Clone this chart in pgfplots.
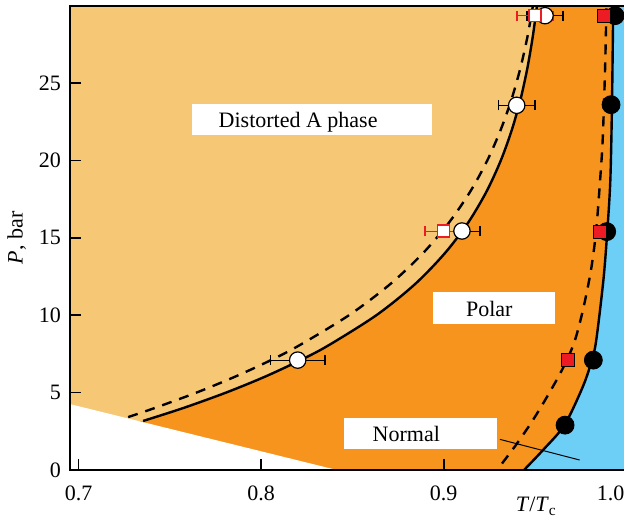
\documentclass[border=0pt]{standalone}
\usepackage{fontspec}
\setmainfont{Liberation Serif}
\usepackage{pgfplots}
\usepackage{pgfplotstable}
\usepgfplotslibrary{fillbetween}
\pgfplotsset{compat=1.18}

\definecolor{phaseA}{RGB}{246,200,118}
\definecolor{phasePolar}{RGB}{247,148,30}
\definecolor{phaseNormal}{RGB}{109,207,246}
\definecolor{markred}{RGB}{237,28,36}

% transition lines: x = T/Tc, P in bar
\pgfplotstableread{
x P
0.7353 3.17
0.7572 4.00
0.7807 5.00
0.8015 6.00
0.8198 7.00
0.8361 8.00
0.8631 10.00
0.8842 12.00
0.9006 14.00
0.9135 16.00
0.9235 18.00
0.9313 20.00
0.9374 22.00
0.9422 24.00
0.9459 26.00
0.9488 28.00
0.9511 30.00
0.9517 30.60
}\lineAsolid
\pgfplotstableread{
x P
0.7271 3.42
0.7415 4.00
0.7645 5.00
0.7851 6.00
0.8036 7.00
0.8201 8.00
0.8481 10.00
0.8706 12.00
0.8886 14.00
0.9030 16.00
0.9146 18.00
0.9239 20.00
0.9313 22.00
0.9373 24.00
0.9421 26.00
0.9459 28.00
0.9489 30.00
0.9498 30.60
}\lineAdashed
\pgfplotstableread{
x P
0.9399 -0.50
0.9440 0.00
0.9544 1.29
0.9662 2.91
0.9764 5.43
0.9812 7.11
0.9836 8.40
0.9875 12.27
0.9896 15.37
0.9913 18.73
0.9922 23.58
0.9929 30.04
0.9930 30.60
}\lineNsolid
\pgfplotstableread{
x P
0.9259 -0.50
0.9292 0.00
0.9396 1.62
0.9489 3.23
0.9572 4.85
0.9648 6.46
0.9714 8.20
0.9763 10.34
0.9807 12.92
0.9835 15.44
0.9857 18.73
0.9871 21.32
0.9884 25.84
0.9892 30.04
0.9893 30.60
}\lineNdashed

% measured points
\pgfplotstableread{
x P ex
0.8200 7.10 0.015
0.9100 15.44 0.010
0.9400 23.56 0.010
0.9555 29.35 0.010
}\openCircles
\pgfplotstableread{
x P ex
0.8998 15.44 0.010
0.9500 29.35 0.010
}\openSquares
\pgfplotstableread{
x P
0.9683 7.10
0.9858 15.40
0.9880 29.35
}\redSquares
\pgfplotstableread{
x P
0.9665 2.90
0.9820 7.10
0.9893 15.40
0.9917 23.60
0.9939 29.35
}\blackCircles

\begin{document}
\begin{tikzpicture}[font=\fontsize{11}{13}\selectfont]
\begin{axis}[
  x=912.5pt, y=7.74pt,
  xmin=0.6952, xmax=1.0, ymin=0, ymax=30,
  axis on top,
  axis background/.style={fill=phasePolar},
  axis line style={line width=0.9pt},
  tick align=inside, tick pos=left,
  major tick length=5.5pt,
  tick style={line width=0.8pt, black},
  xtick={0.7,0.8,0.9}, xticklabels={0.7,0.8,0.9},
  extra x ticks={1.0}, extra x tick labels={1.0},
  extra x tick style={xticklabel style={xshift=-7.85pt}},
  ytick={0,5,10,15,20,25},
  /pgf/number format/assume math mode=true,
  xticklabel style={anchor=base, yshift=-15pt},
  yticklabel style={xshift=-1pt},
  xlabel={\textit{T}/\textit{T}\textsubscript{c}},
  xlabel style={at={(axis description cs:0.8383,-0.0900)}, anchor=base},
  ylabel={\textit{P}, bar},
  ylabel style={at={(axis description cs:-0.0958,0.5)}, anchor=center},
]
% phase regions
\addplot[draw=none, name path=A, smooth] table[x=x, y=P] {\lineAsolid};
\addplot[draw=none, name path=Aedge] coordinates {(0.69,3.17) (0.69,30.6)};
\addplot[phaseA] fill between[of=A and Aedge];
\addplot[draw=none, name path=N, smooth] table[x=x, y=P] {\lineNsolid};
\addplot[draw=none, name path=Nedge] coordinates {(1.01,-0.5) (1.01,30.6)};
\addplot[phaseNormal] fill between[of=N and Nedge];
\addplot[fill=white, draw=none] coordinates {(0.69,4.41) (0.8415,0) (0.8415,-1) (0.69,-1)} --cycle;

% transition lines
\addplot[black, line width=1.2pt, smooth] table[x=x, y=P] {\lineAsolid};
\addplot[black, line width=1.2pt, smooth, dash pattern=on 5pt off 4pt] table[x=x, y=P] {\lineAdashed};
\addplot[black, line width=1.2pt, smooth] table[x=x, y=P] {\lineNsolid};
\addplot[black, line width=1.2pt, smooth, dash pattern=on 5pt off 4pt] table[x=x, y=P] {\lineNdashed};

% labels
\fill[white] (axis cs:0.7621,21.64) rectangle (axis cs:0.8936,23.64);
\node[anchor=base west, inner sep=0] at (axis cs:0.7765,22.14) {Distorted A phase};
\fill[white] (axis cs:0.8943,9.43) rectangle (axis cs:0.9610,11.48);
\node[anchor=base, inner sep=0] at (axis cs:0.9250,9.90) {Polar};
\fill[white] (axis cs:0.8455,1.34) rectangle (axis cs:0.9294,3.34);
\node[anchor=base, inner sep=0] at (axis cs:0.8795,1.87) {Normal};
\draw[black, line width=0.5pt] (axis cs:0.9308,1.98) -- (axis cs:0.9745,0.646);

% points with horizontal error bars
\addplot[black, only marks, mark=none, line width=0.8pt,
  error bars/.cd, x dir=both, x explicit, error mark=|,
  error mark options={mark size=2.5pt, line width=0.8pt, black}]
  table[x=x, y=P, x error=ex] {\openCircles};
\addplot[only marks, mark=*, mark size=4.1pt,
  mark options={fill=white, draw=black, line width=0.6pt}]
  table[x=x, y=P] {\openCircles};
\addplot[markred, only marks, mark=none, line width=0.8pt,
  error bars/.cd, x dir=both, x explicit, error mark=|,
  error mark options={mark size=2.5pt, line width=0.8pt, markred}]
  table[x=x, y=P, x error=ex] {\openSquares};
\addplot[only marks, mark=square*, mark size=3pt,
  mark options={fill=white, draw=markred, line width=0.7pt}]
  table[x=x, y=P] {\openSquares};
\addplot[only marks, mark=*, mark size=4.5pt,
  mark options={fill=black, draw=black}]
  table[x=x, y=P] {\blackCircles};
\addplot[only marks, mark=square*, mark size=3.25pt,
  mark options={fill=markred, draw=black, line width=0.6pt}]
  table[x=x, y=P] {\redSquares};

\coordinate (bbSW) at (axis cs:0.65688,-3.036);
\coordinate (bbNE) at (axis cs:0.99879,30.362);
\end{axis}
\pgfresetboundingbox
\useasboundingbox (bbSW) rectangle (bbNE);
\end{tikzpicture}
\end{document}
